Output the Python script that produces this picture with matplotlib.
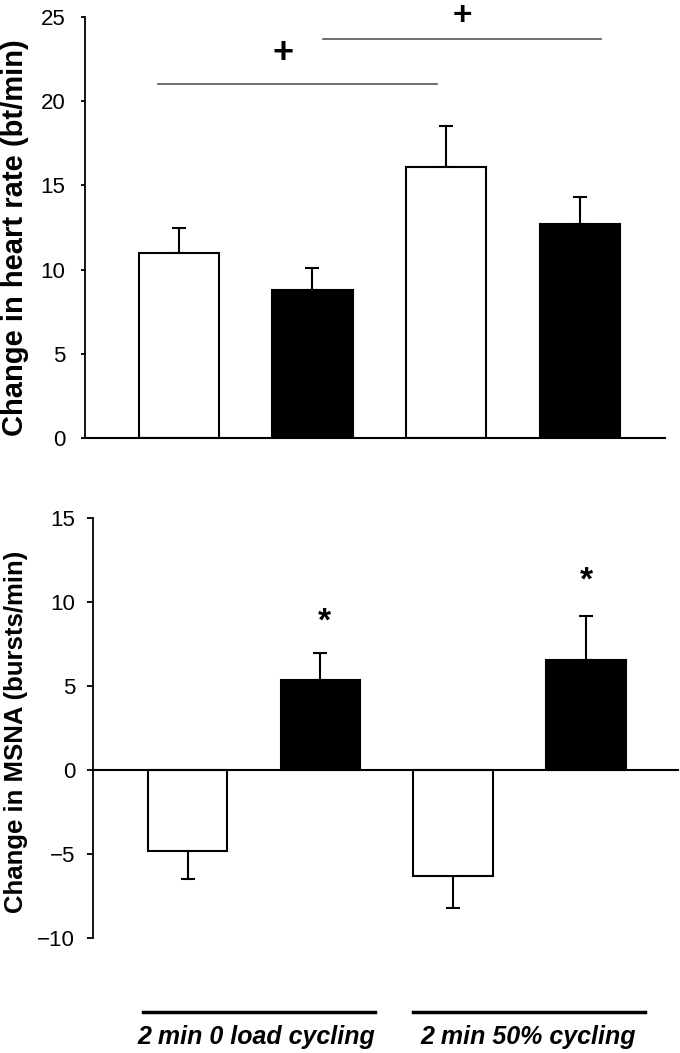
import matplotlib.pyplot as plt
from matplotlib.lines import Line2D
import numpy as np

plt.rcParams['font.family'] = ['Liberation Sans', 'DejaVu Sans']

# heart rate panel (bt/min)
hr_mean = [11.0, 8.8, 16.1, 12.7]
hr_err = [1.45, 1.3, 2.4, 1.6]
# MSNA panel (bursts/min)
msna_mean = [-4.8, 5.35, -6.3, 6.55]
msna_err = [1.7, 1.65, 1.9, 2.6]
bar_colors = ['white', 'black', 'white', 'black']
groups = ['2 min 0 load cycling', '2 min 50% cycling']

x = np.arange(4)

fig = plt.figure(figsize=(6.8, 10.53), dpi=100)

# ---- top: heart rate ----
ax1 = fig.add_axes([0.125, 0.584, 0.853, 0.400])
ax1.bar(x, hr_mean, width=0.6, color=bar_colors, edgecolor='black', linewidth=1.5, zorder=2)
ax1.errorbar(x, hr_mean, yerr=[np.zeros(4), hr_err], fmt='none', ecolor='black',
             elinewidth=1.5, capsize=5, capthick=1.5, zorder=1)
ax1.set_xlim(-0.70, 3.635)
ax1.set_ylim(0, 25)
ax1.set_yticks([0, 5, 10, 15, 20, 25])
ax1.set_xticks([])
for s in ['top', 'right']:
    ax1.spines[s].set_visible(False)
ax1.spines['left'].set_linewidth(1.3)
ax1.spines['bottom'].set_linewidth(1.5)
ax1.tick_params(axis='y', length=3, width=1.3, pad=11, labelsize=16)

# significance lines and plus signs
ax1.plot([-0.153, 1.932], [21.0, 21.0], color='#555555', lw=1.2, clip_on=False)
ax1.plot([1.08, 3.158], [23.7, 23.7], color='#555555', lw=1.2, clip_on=False)
ax1.text(0.78, 22.85, '+', fontsize=26, fontweight='bold', ha='center', va='center')
fig.text(462 / 680, 0.999, '+', fontsize=24, fontweight='bold', ha='center', va='top')

fig.text(0.022, 0.774, 'Change in heart rate (bt/min)', rotation=90, fontsize=21,
         fontweight='bold', ha='center', va='center')

# ---- bottom: MSNA ----
ax2 = fig.add_axes([0.137, 0.109, 0.860, 0.399])
ax2.bar(x, msna_mean, width=0.6, color=bar_colors, edgecolor='black', linewidth=1.5, zorder=2)
lo = [e if m < 0 else 0 for m, e in zip(msna_mean, msna_err)]
hi = [e if m > 0 else 0 for m, e in zip(msna_mean, msna_err)]
ax2.errorbar(x, msna_mean, yerr=[lo, hi], fmt='none', ecolor='black',
             elinewidth=1.5, capsize=5, capthick=1.5, zorder=1)
ax2.set_xlim(-0.71, 3.69)
ax2.set_ylim(-10, 15)
ax2.set_yticks([-10, -5, 0, 5, 10, 15])
ax2.set_xticks([])
for s in ['top', 'right']:
    ax2.spines[s].set_visible(False)
ax2.spines['bottom'].set_position(('data', 0))
ax2.spines['bottom'].set_linewidth(1.5)
ax2.spines['left'].set_linewidth(1.3)
ax2.tick_params(axis='y', length=4, width=1.3, pad=9, labelsize=16)

ax2.text(1.03, 8.8, '*', fontsize=24, fontweight='bold', ha='center', va='center')
ax2.text(3.0, 11.25, '*', fontsize=24, fontweight='bold', ha='center', va='center')

fig.text(0.023, 0.305, 'Change in MSNA (bursts/min)', rotation=90, fontsize=18.5,
         fontweight='bold', ha='center', va='center')

# group labels under the bottom panel
fig.add_artist(Line2D([143 / 680, 375 / 680], [0.0389, 0.0389], color='black', lw=2.5))
fig.add_artist(Line2D([413 / 680, 645 / 680], [0.0389, 0.0389], color='black', lw=2.5))
fig.text(256 / 680, 0.0152, groups[0], fontsize=18, fontweight='bold', fontstyle='italic',
         ha='center', va='center')
fig.text(528 / 680, 0.0152, groups[1], fontsize=18, fontweight='bold', fontstyle='italic',
         ha='center', va='center')

fig.savefig('out.png', dpi=100, facecolor='white')
